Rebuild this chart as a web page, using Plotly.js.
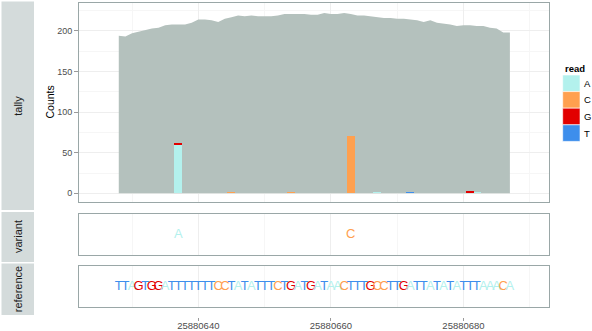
<!DOCTYPE html>
<html><head><meta charset="utf-8">
<script src="https://cdn.plot.ly/plotly-3.0.1.min.js"></script>
<style>html,body{margin:0;padding:0;background:#fff}#chart{width:592px;height:331px}</style>
</head><body><div id="chart"></div>
<script>
// ---- data ----
const refStart = 25880628;
const refSeq = "TTAGTGGATTTTTTTCCTATATTTCTGATGATAACTTTGCCTTGATTATATATTTAAACA";
const coverage = [194,193,197,199,201,203,204,207,208,208,
                  208,210,214,214,213,211,215,217,219,218,
                  219,218,218,218,219,221,221,221,221,220,
                  220,222,221,221,222,221,219,219,218,217,
                  216,216,215,215,214,213,211,213,210,209,
                  208,206,207,207,206,206,204,203,198,198];
const readBases = ["A","C","G","T"];
const posA = [25880637, 25880667, 25880682];
const cntA = [59, 2, 2];
const posC = [25880645, 25880654, 25880663];
const cntC = [2, 2, 70];
const posG = [25880637, 25880681];
const cntG = [3, 3];
const posT = [25880672];
const cntT = [2];
const variantPos = [25880637, 25880663];
const variantBase = ["A", "C"];
const xTicks = [25880640, 25880660, 25880680];
const yTicks = [0, 50, 100, 150, 200];
const trackNames = ["tally", "variant", "reference"];

// ---- style ----
const baseColor = {A: "#b3f1ed", C: "#ffa04f", G: "#e20000", T: "#3d8eec"};
const FONT = "Liberation Sans, Arial, Helvetica, sans-serif";
const W = 592, H = 331;
const px = x => x / W;
const py = y => 1 - y / H;
const GRID = "#eeeeee", MINOR = "#f6f6f6", LINE = "#9aa7a7";
const XR = [25880622.0, 25880692.9];
const XD = [px(79), px(549)];
const YR = [-10.7, 234.4];

const positions = coverage.map((_, i) => refStart + i);
const refLetters = refSeq.split("");

const traces = [];
traces.push({type: "scatter", x: positions, y: coverage, mode: "lines", line: {width: 0, color: "#b4c1bd"},
  fill: "tozeroy", fillcolor: "#b4c1bd", xaxis: "x", yaxis: "y", hoverinfo: "skip", showlegend: false});
const barSets = [[posA, cntA, "A"], [posC, cntC, "C"], [posG, cntG, "G"], [posT, cntT, "T"]];
barSets.forEach(([p, c, b]) => traces.push({type: "bar", x: p, y: c, name: b, width: 1.2,
  marker: {color: baseColor[b], line: {width: 0}}, xaxis: "x", yaxis: "y4", showlegend: false}));
traces.push({type: "scatter", mode: "text", x: variantPos, y: variantPos.map(() => 0.5), text: variantBase,
  textposition: "middle center", textfont: {family: FONT, size: 13, color: variantBase.map(b => baseColor[b])},
  xaxis: "x2", yaxis: "y2", showlegend: false, cliponaxis: false});
traces.push({type: "scatter", mode: "text", x: positions, y: positions.map(() => 0.5), text: refLetters,
  textposition: "middle center", textfont: {family: FONT, size: 13, color: refLetters.map(b => baseColor[b])},
  xaxis: "x3", yaxis: "y3", showlegend: false, cliponaxis: false});
traces.push({type: "scatter", mode: "markers", x: [], y: [], xaxis: "x4", yaxis: "y3", showlegend: false});

function xax(anchor) {
  return {domain: XD, range: XR, anchor: anchor, tickmode: "array", tickvals: xTicks, showticklabels: false,
    ticks: "", showgrid: true, gridcolor: GRID, gridwidth: 1,
    minor: {tickmode: "array", tickvals: [25880630, 25880650, 25880670, 25880690], showgrid: true, gridcolor: MINOR},
    showline: true, mirror: true, linecolor: LINE, linewidth: 1, zeroline: false, fixedrange: true};
}
function yax(dom, anchor) {
  return {domain: dom, range: [0, 1], anchor: anchor, showticklabels: false, ticks: "", showgrid: false,
    showline: true, mirror: true, linecolor: LINE, linewidth: 1, zeroline: false};
}

const layout = {
  width: W, height: H, margin: {l: 0, r: 0, t: 0, b: 0}, paper_bgcolor: "#fff", plot_bgcolor: "#fff",
  font: {family: FONT}, barmode: "stack", bargap: 0, hovermode: false, showlegend: false,
  xaxis: xax("y"), xaxis2: xax("y2"), xaxis3: xax("y3"),
  xaxis4: {domain: XD, range: XR, anchor: "free", position: py(317), overlaying: "x3", tickmode: "array",
    tickvals: xTicks, ticktext: xTicks.map(String), ticks: "outside", ticklen: 3, tickcolor: "#9a9a9a",
    ticklabelstandoff: -3,
    tickfont: {family: FONT, size: 9.5, color: "#4d4d4d"}, showgrid: false, showline: false, zeroline: false},
  yaxis: {domain: [py(202), py(3)], range: YR, anchor: "x", tickmode: "array", tickvals: yTicks,
    ticks: "outside", ticklen: 4, tickcolor: "#9a9a9a", tickfont: {family: FONT, size: 9, color: "#4d4d4d"},
    showgrid: true, gridcolor: GRID, minor: {dtick: 25, tick0: 0, showgrid: true, gridcolor: MINOR},
    showline: true, mirror: true, linecolor: LINE, linewidth: 1, zeroline: false},
  yaxis4: {overlaying: "y", range: YR, anchor: "x", visible: false},
  yaxis2: yax([py(255), py(214)], "x2"),
  yaxis3: yax([py(307), py(266)], "x3"),
  shapes: [], annotations: []
};

function note(x, y, text, opts) {
  return Object.assign({xref: "paper", yref: "paper", x: px(x), y: py(y), text: text, showarrow: false,
    xanchor: "center", yanchor: "middle"}, opts);
}

// strips (track labels)
const stripBoxes = [[1.5, 210], [212, 262], [263.5, 315]];
stripBoxes.forEach(([a, b], i) => {
  layout.shapes.push({type: "rect", xref: "paper", yref: "paper", x0: px(1.5), x1: px(34), y0: py(b), y1: py(a),
    fillcolor: "#d4dbdb", line: {width: 0}, layer: "below"});
  layout.annotations.push(note(18, (a + b) / 2, trackNames[i],
    {textangle: -90, font: {family: FONT, size: 11, color: "#1a1a1a"}}));
});
layout.annotations.push(note(50, 102.5, "Counts", {textangle: -90, font: {family: FONT, size: 10.5, color: "#000"}}));

// legend
layout.annotations.push(note(562.5, 68.5, "<b>read</b>", {xanchor: "left", font: {family: FONT, size: 9.5, color: "#000"}}));
readBases.forEach((b, i) => {
  const y0 = 75 + i * 16.6;
  layout.shapes.push({type: "rect", xref: "paper", yref: "paper", x0: px(562.7), x1: px(580), y0: py(y0 + 16.6), y1: py(y0),
    fillcolor: baseColor[b], line: {width: 0.6, color: "#ffffff"}});
  layout.annotations.push(note(581.5, y0 + 8.3, b, {xanchor: "left", font: {family: FONT, size: 9.5, color: "#000"}}));
});

Plotly.newPlot("chart", traces, layout, {staticPlot: true, displayModeBar: false});
</script></body></html>
